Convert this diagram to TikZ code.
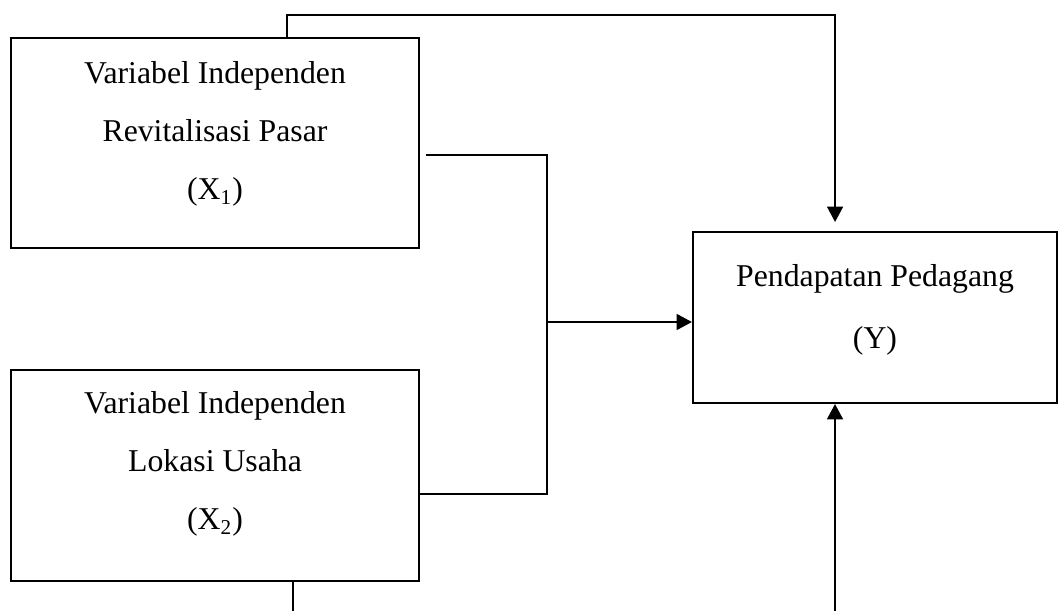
\documentclass[tikz,border=0pt]{standalone}
\usepackage{fontspec}
\setmainfont{Liberation Serif}
\usetikzlibrary{arrows.meta,positioning}

\begin{document}
\begin{tikzpicture}[x=0.378pt,y=-0.378pt,>={Triangle[length=5.8pt,width=6pt]},
  var/.style={draw,line width=0.8pt,minimum width=154pt,minimum height=79.5pt,inner sep=0pt},
  txt/.style={align=center,inner sep=0pt,font=\fontsize{12}{22}\selectfont},
  thin/.style={line width=0.4pt},
  arr/.style={line width=0.8pt,->}]
\useasboundingbox (0,0) rectangle (1059,611);
\node[var] (x1) at (215,143) {};
\node[var] (x2) at (215,475.5) {};
\node[var,minimum width=137.6pt,minimum height=64.6pt] (y) at (875,317.5) {};
\node[txt,yshift=3.4pt] (x1t) at (x1) {Variabel Independen\\Revitalisasi Pasar\\(X\textsubscript{1})};
\node[txt,yshift=4.5pt] (x2t) at (x2) {Variabel Independen\\Lokasi Usaha\\(X\textsubscript{2})};
\node[txt,yshift=3pt,font=\fontsize{12}{23.4}\selectfont] (yt) at (y) {Pendapatan Pedagang\\(Y)};
\coordinate (top) at (287,15);
\coordinate (a) at (426,155);
\coordinate (b) at (547,155);
\coordinate (c) at (547,494);
\coordinate (m) at (547,322);
\coordinate (d) at (293,611);
\coordinate (e) at (835,611);
\draw[arr,line width=0.7pt,shorten >=3.4pt] (x1.north -| top) -- (top) -| ([xshift=-15.1pt]y.north);
\draw[thin] (a) -- (b) -- (c) -- (x2.east |- c);
\draw[arr] (m) -- (y.west |- m);
\draw[thin] (x2.south -| d) -- (d);
\draw[arr] (e) -- (y.south -| e);
\end{tikzpicture}
\end{document}
